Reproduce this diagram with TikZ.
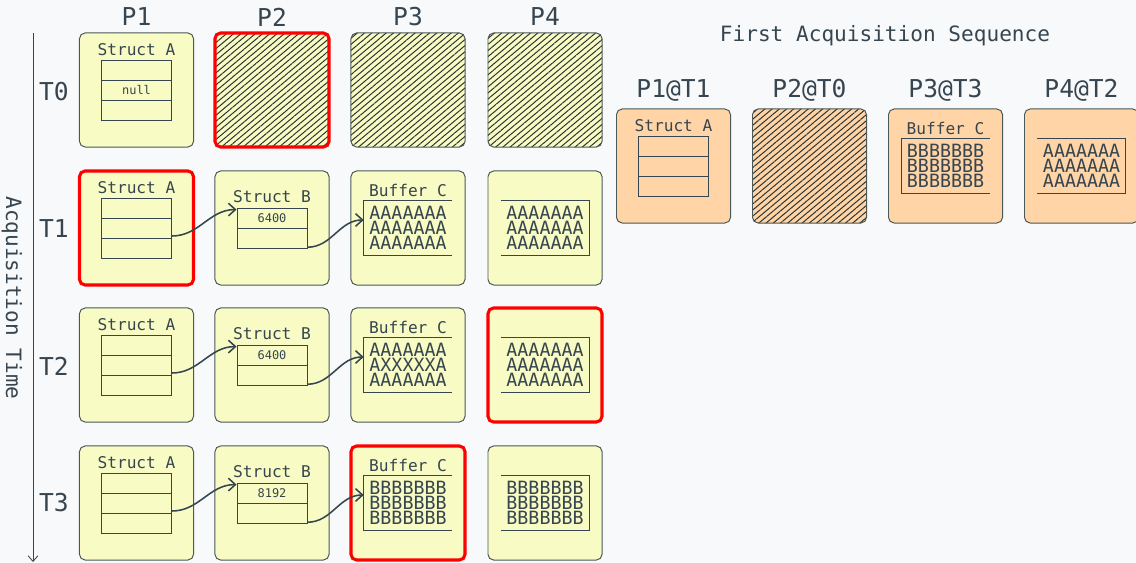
\documentclass[tikz,border=0pt]{standalone}
\usepackage{fontspec}
\setmainfont{DejaVu Sans Mono}
\usetikzlibrary{positioning}
\usetikzlibrary{arrows.meta,patterns.meta}

\definecolor{ink}{HTML}{36454F}
\definecolor{hatch}{HTML}{2A3232}
\definecolor{edge}{HTML}{4A5858}
\definecolor{paper}{HTML}{F8FBC3}
\definecolor{peach}{HTML}{FFD4A6}
\definecolor{canvas}{HTML}{F8F9FA}
\definecolor{hotred}{HTML}{FF0000}

\tikzset{
    panel/.style={draw=edge, fill=paper, line width=0.7pt, rounded corners=4pt,
        minimum width=2.85cm, minimum height=2.85cm},
    hot/.style={draw=hotred, line width=2.2pt},
    void/.style={preaction={fill=#1}, pattern={Lines[angle=40,distance=3.3pt,line width=0.7pt]}, pattern color=hatch},
    void/.default=paper,
    colhead/.style={text=ink, font=\fontsize{17.5}{19}\selectfont},
    seqtitle/.style={text=ink, font=\fontsize{15}{17}\selectfont},
    partname/.style={text=ink, font=\fontsize{11.5}{13}\selectfont, inner sep=0pt},
    val/.style={text=ink, font=\fontsize{8.5}{10}\selectfont, inner sep=0pt},
    buftext/.style={text=ink, font=\fontsize{13}{10.9}\selectfont, align=center, inner sep=0pt,
        minimum width=2.2cm, minimum height=1.375cm},
    tbl/.style={draw=ink, line width=0.6pt, minimum width=1.75cm, inner sep=0pt},
    rule/.style={draw=ink, line width=0.6pt},
    link/.style={draw=ink, line width=1.1pt, -{Straight Barb[length=5pt,width=9pt]}},
}
\tikzset{
    structA/.pic={
        \node[partname] at (0,40) {Struct A};
        \node[tbl, minimum height=1.5cm] (-tbl) at (0,0) {};
        \draw[rule] (-35,10) -- (35,10) (-35,-10) -- (35,-10);
        \node[val] at (0,0) {#1};
    }
}
\tikzset{
    structB/.pic={
        \node[partname] at (0,31) {Struct B};
        \node[tbl, minimum height=1cm] (-tbl) at (0,0) {};
        \draw[rule] (-35,0) -- (35,0);
        \node[val] at (0,10) {#1};
    }
}
\tikzset{
    bufferC/.pic={
        \node[partname] at (0,38) {Buffer C};
        \node[buftext] (-buf) at (0,0) {#1};
        \draw[rule] (-buf.north east) -- (-buf.north west) -- (-buf.south west) -- (-buf.south east);
    }
}
\tikzset{
    bufferTail/.pic={
        \node[buftext] (-buf) at (0,0) {#1};
        \draw[rule] (-buf.north west) -- (-buf.north east) -- (-buf.south east) -- (-buf.south west);
    }
}

\begin{document}
\begin{tikzpicture}[x=0.025cm, y=0.025cm]
    \fill[canvas] (0,0) rectangle (1136,-563);
    \useasboundingbox (0,0) rectangle (1136,-563);

    % pages and times
    \node[colhead] (hP1) at (136.5,-17) {P1};
    \node[colhead] (hP2) at (272,-17) {P2};
    \node[colhead] (hP3) at (408,-17) {P3};
    \node[colhead] (hP4) at (545,-17) {P4};
    \node[colhead] (hT0) at (54,-92) {T0};
    \node[colhead] (hT1) at (54,-229) {T1};
    \node[colhead] (hT2) at (54,-366) {T2};
    \node[colhead] (hT3) at (54,-503) {T3};

    \coordinate (tStart) at (33,-33);
    \coordinate (tEnd) at (33,-562);
    \draw[rule, -{Straight Barb[length=4pt,width=7pt]}] (tStart) -- (tEnd);
    \node[seqtitle, rotate=-90] (tAxis) at (12,-298) {Acquisition Time};

    % grid of pages
    \node[panel] (p1t0) at (136.5,-90) {};
    \node[panel,void,hot] (p2t0) at (272,-90) {};
    \node[panel,void] (p3t0) at (408,-90) {};
    \node[panel,void] (p4t0) at (545,-90) {};

    \node[panel,hot] (p1t1) at (136.5,-228) {};
    \node[panel] (p2t1) at (272,-228) {};
    \node[panel] (p3t1) at (408,-228) {};
    \node[panel] (p4t1) at (545,-228) {};

    \node[panel] (p1t2) at (136.5,-365) {};
    \node[panel] (p2t2) at (272,-365) {};
    \node[panel] (p3t2) at (408,-365) {};
    \node[panel,hot] (p4t2) at (545,-365) {};

    \node[panel] (p1t3) at (136.5,-503) {};
    \node[panel] (p2t3) at (272,-503) {};
    \node[panel,hot] (p3t3) at (408,-503) {};
    \node[panel] (p4t3) at (545,-503) {};

    \pic (a0) at (p1t0.center) {structA={null}};

    \pic (a1) at (p1t1.center) {structA={}};
    \pic (b1) at (p2t1.center) {structB={6400}};
    \pic (c1) at (p3t1.center) {bufferC={AAAAAAA\\AAAAAAA\\AAAAAAA}};
    \pic (d1) at (p4t1.center) {bufferTail={AAAAAAA\\AAAAAAA\\AAAAAAA}};

    \pic (a2) at (p1t2.center) {structA={}};
    \pic (b2) at (p2t2.center) {structB={6400}};
    \pic (c2) at (p3t2.center) {bufferC={AAAAAAA\\AXXXXXA\\AAAAAAA}};
    \pic (d2) at (p4t2.center) {bufferTail={AAAAAAA\\AAAAAAA\\AAAAAAA}};

    \pic (a3) at (p1t3.center) {structA={}};
    \pic (b3) at (p2t3.center) {structB={8192}};
    \pic (c3) at (p3t3.center) {bufferC={BBBBBBB\\BBBBBBB\\BBBBBBB}};
    \pic (d3) at (p4t3.center) {bufferTail={BBBBBBB\\BBBBBBB\\BBBBBBB}};

    \foreach \r in {1,2,3}{
        \draw[link] ([yshift=-0.2cm]a\r-tbl.east) to[out=0,in=180] ([yshift=-0.05cm]b\r-tbl.north west);
        \draw[link] ([yshift=0.03cm]b\r-tbl.south east) to[out=0,in=180] ([yshift=0.2cm]c\r-buf.west);
    }

    % first acquisition sequence
    \node[seqtitle] (seq) at (885,-36) {First Acquisition Sequence};
    \node[colhead] (hS1) at (673.5,-90) {P1@T1};
    \node[colhead] (hS2) at (809.5,-90) {P2@T0};
    \node[colhead] (hS3) at (945.5,-90) {P3@T3};
    \node[colhead] (hS4) at (1081.5,-90) {P4@T2};

    \node[panel,fill=peach] (s1) at (673.5,-166) {};
    \node[panel,void=peach] (s2) at (809.5,-166) {};
    \node[panel,fill=peach] (s3) at (945.5,-166) {};
    \node[panel,fill=peach] (s4) at (1081.5,-166) {};

    \pic (sa) at (s1.center) {structA={}};
    \pic (sc) at (s3.center) {bufferC={BBBBBBB\\BBBBBBB\\BBBBBBB}};
    \pic (sd) at (s4.center) {bufferTail={AAAAAAA\\AAAAAAA\\AAAAAAA}};
\end{tikzpicture}
\end{document}
